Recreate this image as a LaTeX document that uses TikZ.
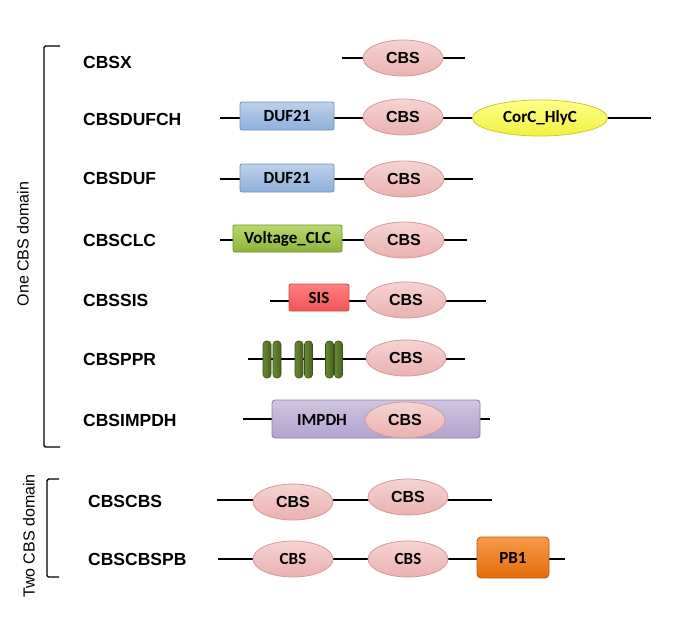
\documentclass[tikz,border=0pt]{standalone}
\usepackage{fontspec}
\setmainfont{Liberation Sans}
\newfontfamily\calib{Carlito}
\usepackage{tikz}
\usetikzlibrary{shapes.geometric}

\definecolor{cbstop}{HTML}{F6D3D2}
\definecolor{cbsbot}{HTML}{E9B1B0}
\definecolor{cbsedge}{HTML}{D49A98}
\definecolor{duftop}{HTML}{BCD0EA}
\definecolor{dufbot}{HTML}{8DB0DA}
\definecolor{dufedge}{HTML}{6F93C0}
\definecolor{clctop}{HTML}{B9D96C}
\definecolor{clcbot}{HTML}{8CB33C}
\definecolor{clcedge}{HTML}{6F8F2E}
\definecolor{sistop}{HTML}{FF8080}
\definecolor{sisbot}{HTML}{F25454}
\definecolor{sisedge}{HTML}{C4504C}
\definecolor{cortop}{HTML}{FFFF88}
\definecolor{corbot}{HTML}{F2F040}
\definecolor{coredge}{HTML}{CACA3A}
\definecolor{imptop}{HTML}{CFC4E0}
\definecolor{impbot}{HTML}{B2A3CD}
\definecolor{impedge}{HTML}{8E7DAE}
\definecolor{pbtop}{HTML}{F89A4C}
\definecolor{pbbot}{HTML}{E46C0A}
\definecolor{pbedge}{HTML}{B65A12}
\definecolor{pprtop}{HTML}{688A32}
\definecolor{pprbot}{HTML}{4A6320}
\definecolor{ppredge}{HTML}{3C5019}

\tikzset{
  lbl/.style={anchor=west, inner sep=0pt, font=\fontsize{17.5}{18}\selectfont\bfseries},
  side/.style={rotate=90, inner sep=0pt, font=\fontsize{16}{16}\selectfont},
  chain/.style={line width=2.4pt},
  brace/.style={line width=1.4pt},
  cbs/.style={ellipse, draw=cbsedge, line width=0.8pt, top color=cbstop, bottom color=cbsbot,
    minimum width=80pt, minimum height=36pt, inner sep=0pt, font=\fontsize{16}{16}\selectfont\bfseries},
  cbsc/.style={cbs, font=\calib\fontsize{17}{17}\selectfont\bfseries},
  dombox/.style={rectangle, rounded corners=2pt, line width=0.8pt, inner sep=0pt,
    font=\calib\fontsize{17}{17}\selectfont\bfseries},
  duf/.style={dombox, draw=dufedge, top color=duftop, bottom color=dufbot, minimum width=94pt, minimum height=28pt},
  ppr/.style={rectangle, rounded corners=3.5pt, draw=ppredge, line width=0.6pt, left color=pprtop,
    right color=pprbot, minimum width=8pt, minimum height=37pt, inner sep=0pt}
}

\begin{document}
\begin{tikzpicture}[x=1pt,y=1pt]
\useasboundingbox (0,0) rectangle (685,-625);

% groups
\draw[brace, rounded corners=1.5pt] (60,-46) -- (44,-46) -- (44,-447) -- (60,-447);
\node[side] (one) at (23,-244) {One CBS domain};
\draw[brace, rounded corners=1.5pt] (59,-479) -- (47,-479) -- (47,-577) -- (59,-577);
\node[side] (two) at (29,-536) {Two CBS domain};

% CBSX
\node[lbl] (lx) at (83,-62) {CBSX};
\coordinate (xa) at (342,-58); \coordinate (xb) at (465,-58);
\draw[chain] (xa) -- (xb);
\node[cbs] (xcbs) at (403,-58) {CBS};

% CBSDUFCH
\node[lbl] (ldufch) at (83,-119) {CBSDUFCH};
\coordinate (dcha) at (220,-118); \coordinate (dchb) at (651,-118);
\draw[chain] (dcha) -- (dchb);
\node[duf] (dchduf) at (287,-116) {DUF21};
\node[cbs] (dchcbs) at (403,-117) {CBS};
\node[ellipse, draw=coredge, line width=0.8pt, top color=cortop, bottom color=corbot,
  minimum width=135pt, minimum height=36pt, inner sep=0pt,
  font=\calib\fontsize{17}{17}\selectfont\bfseries] (dchcor) at (540,-118) {CorC\_HlyC};

% CBSDUF
\node[lbl] (lduf) at (83,-178) {CBSDUF};
\coordinate (dufa) at (220,-179); \coordinate (dufb) at (473,-179);
\draw[chain] (dufa) -- (dufb);
\node[duf] (dufduf) at (287,-178) {DUF21};
\node[cbs] (dufcbs) at (404,-179) {CBS};

% CBSCLC
\node[lbl] (lclc) at (83,-240) {CBSCLC};
\coordinate (clca) at (220,-240); \coordinate (clcb) at (467,-240);
\draw[chain] (clca) -- (clcb);
\node[dombox, draw=clcedge, top color=clctop, bottom color=clcbot,
  minimum width=109pt, minimum height=27pt] (clcbox) at (287.5,-238.5) {Voltage\_CLC};
\node[cbs] (clccbs) at (404,-240) {CBS};

% CBSSIS
\node[lbl] (lsis) at (83,-300) {CBSSIS};
\coordinate (sisa) at (270,-301); \coordinate (sisb) at (486,-301);
\draw[chain] (sisa) -- (sisb);
\node[dombox, draw=sisedge, top color=sistop, bottom color=sisbot,
  minimum width=60pt, minimum height=27pt] (sisbox) at (319,-297.5) {SIS};
\node[cbs] (siscbs) at (406,-300) {CBS};

% CBSPPR
\node[lbl] (lppr) at (83,-359) {CBSPPR};
\coordinate (ppra) at (248,-359); \coordinate (pprb) at (465,-359);
\draw[chain] (ppra) -- (pprb);
\foreach \i/\px in {1/267,2/277,3/299,4/308.5,5/329.5,6/338.5}
  \node[ppr] (ppr\i) at (\px,-359.5) {};
\node[cbs] (pprcbs) at (406,-358) {CBS};

% CBSIMPDH
\node[lbl] (limp) at (83,-420) {CBSIMPDH};
\coordinate (impa) at (243,-419); \coordinate (impb) at (490,-419);
\draw[chain] (impa) -- (impb);
\node[dombox, rounded corners=3pt, draw=impedge, top color=imptop, bottom color=impbot,
  minimum width=208pt, minimum height=38pt] (impbox) at (376,-419) {};
\node[font=\calib\fontsize{17}{17}\selectfont\bfseries] (imptxt) at (322,-420) {IMPDH};
\node[cbs] (impcbs) at (405,-420) {CBS};

% CBSCBS
\node[lbl] (lcc) at (88,-501) {CBSCBS};
\coordinate (cca) at (217,-500); \coordinate (ccb) at (492,-500);
\draw[chain] (cca) -- (ccb);
\node[cbs] (cccbsa) at (293,-502) {CBS};
\node[cbs] (cccbsb) at (408,-497) {CBS};

% CBSCBSPB
\node[lbl] (lccpb) at (88,-559) {CBSCBSPB};
\coordinate (pba) at (218,-559); \coordinate (pbb) at (565,-559);
\draw[chain] (pba) -- (pbb);
\node[cbsc] (pbcbsa) at (293,-559) {CBS};
\node[cbsc] (pbcbsb) at (408,-559) {CBS};
\node[dombox, rounded corners=4pt, draw=pbedge, top color=pbtop, bottom color=pbbot,
  minimum width=72pt, minimum height=41pt] (pbbox) at (513,-557.5) {PB1};
\end{tikzpicture}
\end{document}
